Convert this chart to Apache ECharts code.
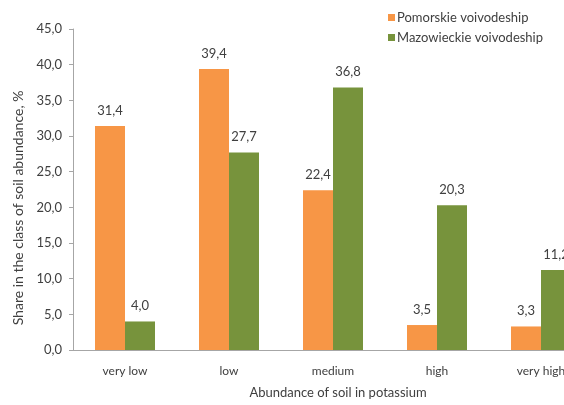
<!DOCTYPE html>
<html>
<head>
<meta charset="utf-8">
<script src="https://cdn.jsdelivr.net/npm/echarts@6/dist/echarts.min.js"></script>
<style>
  html, body { margin: 0; padding: 0; background: #fff; }
  #chart { width: 564px; height: 405px; }
</style>
</head>
<body>
<div id="chart"></div>
<script>
// Potassium abundance classes of soil, share per voivodeship (%)
const categories = ['very low', 'low', 'medium', 'high', 'very high'];
const pomorskie = [31.4, 39.4, 22.4, 3.5, 3.3];
const mazowieckie = [4.0, 27.7, 36.8, 20.3, 11.2];
const seriesNames = ['Pomorskie voivodeship', 'Mazowieckie voivodeship'];
const yTicks = { min: 0, max: 45, interval: 5 };
const xTitle = 'Abundance of soil in potassium';
const yTitle = 'Share in the class of soil abundance, %';

const textColor = '#404040';
const fontFamily = 'Lato, "Open Sans", sans-serif';
const fmt = v => Number(v).toFixed(1).replace('.', ',');

const chart = echarts.init(document.getElementById('chart'), null, { renderer: 'canvas' });

const barLabel = {
  show: true,
  position: 'top',
  distance: 9,
  color: textColor,
  fontSize: 13,
  fontFamily: fontFamily,
  formatter: p => fmt(p.value)
};

chart.setOption({
  animation: false,
  backgroundColor: '#ffffff',
  textStyle: { fontFamily: fontFamily },
  legend: {
    orient: 'vertical',
    left: 383,
    top: 6,
    itemWidth: 7,
    itemHeight: 7,
    itemGap: 7,
    icon: 'rect',
    textStyle: { color: textColor, fontSize: 13, fontFamily: fontFamily, padding: [0, 0, 0, -3] },
    data: seriesNames
  },
  // plot area runs past the right edge of the canvas, so the last pair is cut off
  grid: { left: 73, width: 520, top: 29, bottom: 55, containLabel: false, outerBoundsMode: 'none' },
  xAxis: {
    type: 'category',
    data: categories,
    axisLine: { lineStyle: { color: '#a6a6a6', width: 1 } },
    axisTick: { show: false },
    axisLabel: { color: textColor, fontSize: 12, fontFamily: fontFamily, margin: 15 }
  },
  yAxis: {
    type: 'value',
    min: yTicks.min,
    max: yTicks.max,
    interval: yTicks.interval,
    axisLine: { show: true, lineStyle: { color: '#a6a6a6', width: 1 } },
    axisTick: { show: true, length: 4, lineStyle: { color: '#a6a6a6' } },
    splitLine: { show: false },
    axisLabel: { color: textColor, fontSize: 13, fontFamily: fontFamily, margin: 11, formatter: v => fmt(v) }
  },
  graphic: [
    {
      type: 'text',
      x: 338,
      y: 393,
      style: {
        text: xTitle, fill: textColor, fontSize: 13, fontFamily: fontFamily,
        align: 'center', verticalAlign: 'middle'
      }
    },
    {
      type: 'text',
      x: 18,
      y: 208,
      rotation: Math.PI / 2,
      style: {
        text: yTitle, fill: textColor, fontSize: 14, fontFamily: fontFamily,
        align: 'center', verticalAlign: 'middle'
      }
    }
  ],
  series: [
    {
      name: seriesNames[0],
      type: 'bar',
      data: pomorskie,
      barWidth: 30,
      barGap: '0%',
      itemStyle: { color: '#F79646' },
      label: barLabel
    },
    {
      name: seriesNames[1],
      type: 'bar',
      data: mazowieckie,
      barWidth: 30,
      barGap: '0%',
      itemStyle: { color: '#77933C' },
      label: barLabel
    }
  ]
});
</script>
</body>
</html>
